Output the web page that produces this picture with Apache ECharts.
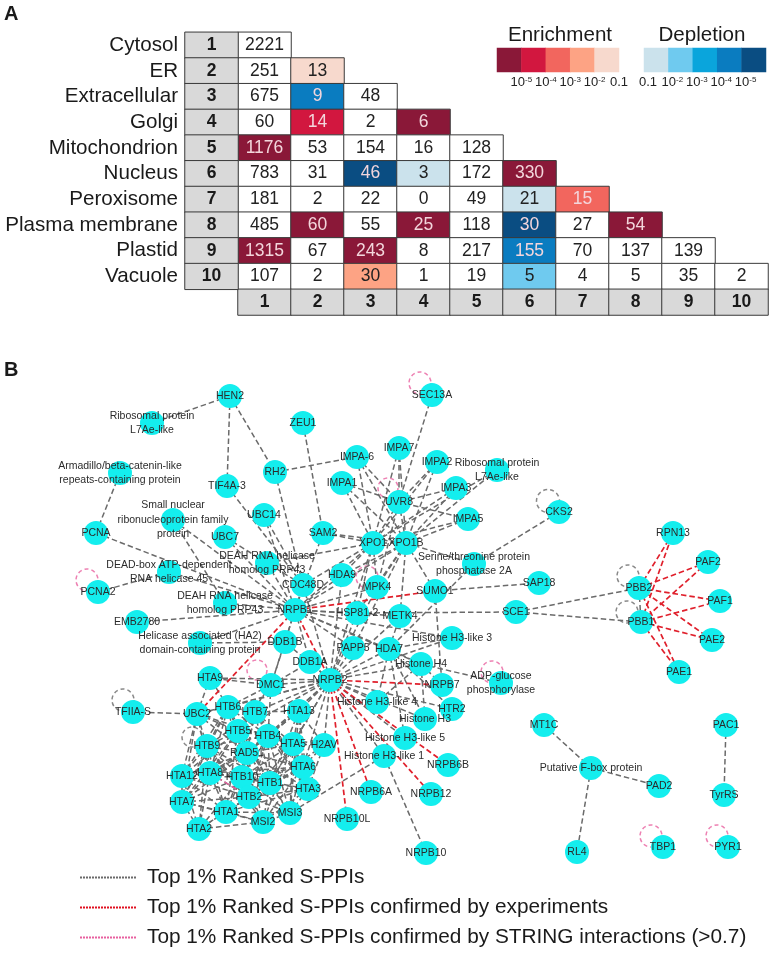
<!DOCTYPE html>
<html>
<head>
<meta charset="utf-8">
<style>html,body{margin:0;padding:0;background:#fff}#c{width:771px;height:953px}</style>
<script src="https://cdn.jsdelivr.net/npm/echarts@6/dist/echarts.min.js"></script>
</head>
<body>
<div id="c"></div>
<script>
// ---------- Panel A data ----------
const compartments = ["Cytosol","ER","Extracellular","Golgi","Mitochondrion","Nucleus","Peroxisome","Plasma membrane","Plastid","Vacuole"];
const overlapCounts = [
  [2221],
  [251,13],
  [675,9,48],
  [60,14,2,6],
  [1176,53,154,16,128],
  [783,31,46,3,172,330],
  [181,2,22,0,49,21,15],
  [485,60,55,25,118,30,27,54],
  [1315,67,243,8,217,155,70,137,139],
  [107,2,30,1,19,5,4,5,35,2]
];
// + = enrichment class, - = depletion class, 0 = not significant
const significance = [
  [0],
  [0,1],
  [0,-4,0],
  [0,4,0,5],
  [5,0,0,0,0],
  [0,0,-5,-1,0,5],
  [0,0,0,0,0,-1,3],
  [0,5,0,5,0,-5,0,5],
  [5,0,5,0,0,-4,0,0,0],
  [0,0,2,0,0,-2,0,0,0,0]
];
const enrichColors = ["#f7d9cd","#fda384","#f2665e","#d2173f","#8a1838"];   // class 1..5
const depleteColors = ["#cbe2ec","#6fcaef","#0aa5dc","#0a7cc0","#0a4d82"];  // class 1..5
const enrichTicks = ["", "10{s|-5}", "10{s|-4}", "10{s|-3}", "10{s|-2}", "0.1"];
const depleteTicks = ["0.1", "10{s|-2}", "10{s|-3}", "10{s|-4}", "10{s|-5}", ""];

// ---------- Panel B data (positions) ----------
const nodes = [
  ["HEN2",230,396],["Rib1",152,423,"Ribosomal protein\nL7Ae-like"],["ZEU1",303,423],["RH2",275,472],
  ["TIF4A-3",227,486],["Armadillo",120,473,"Armadillo/beta-catenin-like\nrepeats-containing protein"],
  ["UBC14",264,515],["SmallNuc",173,520,"Small nuclear\nribonucleoprotein family\nprotein"],["UBC7",225,537],
  ["PCNA",96,533],["SAM2",323,533],["DEAH1",267,563,"DEAH RNA helicase\nhomolog PRP43"],["CDC48D",303,585],
  ["HDA9",342,575],["IMPA1",342,483],["IMPA-6",357,457],["DEADbox",169,572,"DEAD-box ATP-dependent\nRNA helicase 45"],
  ["PCNA2",98,592],["DEAH2",225,603,"DEAH RNA helicase\nhomolog PRP43"],["SEC13A",432,395],["IMPA7",399,448],
  ["IMPA2",437,462],["Rib2",497,470,"Ribosomal protein\nL7Ae-like"],["IMPA3",456,488],["UVR8",399,502],
  ["IMPA5",468,519],["CKS2",559,512],["XPO1",373,543],["XPO1B",406,543],
  ["SerThr",474,564,"Serine/threonine protein\nphosphatase 2A"],["SAP18",539,583],["MPK4",377,587],["SUMO1",435,591],
  ["EMB2780",137,622],["HA2",200,643,"Helicase associated (HA2)\ndomain-containing protein"],["NRPB1",295,610],
  ["DDB1B",285,642],["DDB1A",310,662],["NRPB2",330,680],["HTA9",210,678],["DMC1",271,685],["TFIIA-S",133,712],
  ["UBC2",197,714],["HTB6",228,707],["HTB7",255,712],["HTA13",299,711],["HTB5",238,731],["HTB4",268,736],
  ["HTA5",293,744],["H2AV",324,745],["HTB9",207,746],["RAD51",247,753],["HTA6",303,767],["HTA8",210,773],
  ["HTA12",182,776],["HTB10",242,777],["HTB1",270,783],["HTA3",308,789],["HTA7",182,802],["HTB2",249,797],
  ["HTA1",226,812],["MSI3",290,813],["MSI2",263,822],["HTA2",199,829],["NRPB10L",347,819],
  ["HSP81-2",357,613],["METK4",400,616],["SCE1",516,612],["H3L3",452,638,"Histone H3-like 3"],["PAPP5",353,648],
  ["HDA7",389,649],["H4",421,664,"Histone H4"],["ADPG",501,683,"ADP-glucose\nphosphorylase"],["NRPB7",442,685],
  ["HTR2",452,709],["H3L4",377,702,"Histone H3-like 4"],["H3",425,719,"Histone H3"],["H3L5",405,738,"Histone H3-like 5"],
  ["H3L1",384,756,"Histone H3-like 1"],["NRPB6B",448,765],["NRPB6A",371,792],["NRPB12",431,794],["NRPB10",426,853],
  ["RPN13",673,533],["PAF2",708,562],["PBB2",639,588],["PAF1",720,601],["PBB1",641,622],["PAE2",712,640],["PAE1",679,672],
  ["MT1C",544,725],["FBOX",591,768,"Putative F-box protein"],["PAD2",659,786],["PAC1",726,725],["TyrRS",724,795],
  ["RL4",577,852],["TBP1",663,847],["PYR1",728,847]
];
const grayLinks = [
  ["HEN2",["Rib1","TIF4A-3","RH2"]],
  ["RH2",["IMPA-6","CDC48D"]],
  ["ZEU1",["SAM2"]],["Armadillo",["PCNA"]],["PCNA",["NRPB1"]],["PCNA2",["DEADbox"]],["DEADbox",["NRPB1"]],
  ["TIF4A-3",["CDC48D"]],["UBC14",["NRPB1","CDC48D"]],["UBC7",["NRPB1","CDC48D"]],["SmallNuc",["NRPB1","DEAH2"]],
  ["SAM2",["XPO1","XPO1B","NRPB1"]],["DEAH1",["XPO1","NRPB1"]],["EMB2780",["NRPB1"]],["DEAH2",["NRPB1"]],["HA2",["NRPB1","DDB1B"]],
  ["IMPA-6",["UVR8","XPO1","XPO1B"]],["IMPA7",["UVR8","XPO1","XPO1B"]],["IMPA2",["UVR8","XPO1","XPO1B"]],
  ["IMPA3",["UVR8","XPO1","XPO1B"]],["IMPA5",["UVR8","XPO1","XPO1B"]],["IMPA1",["UVR8","XPO1","XPO1B"]],["Rib2",["XPO1","XPO1B"]],
  ["SEC13A",["UVR8"]],["UVR8",["XPO1","XPO1B","MPK4"]],
  ["XPO1",["XPO1B","HDA9","MPK4","NRPB1","HSP81-2","CDC48D","NRPB2"]],
  ["XPO1B",["MPK4","SUMO1","HSP81-2","METK4","SerThr","HDA9","NRPB1","PAPP5"]],
  ["CKS2",["SerThr"]],["SerThr",["HDA7"]],["SUMO1",["SAP18","NRPB7"]],
  ["SCE1",["PBB2","PBB1","HSP81-2"]],["PBB2",["PBB1"]],
  ["NRPB1",["DDB1A","DDB1B","PAPP5","HDA7","H4","CDC48D","HDA9","HSP81-2","METK4","H3L3","MPK4","DMC1"]],
  ["NRPB2",["HTA9","DMC1","UBC2","HTB6","HTB7","HTA13","H2AV","HTA5","HTB4","HTB5","RAD51","HTB1","HTA6","DDB1A","DDB1B","PAPP5","HDA7","H4","H3L3","H3L4","H3","HTR2","H3L5","H3L1","HSP81-2","CDC48D","HDA9","METK4","MPK4"]],
  ["H4",["ADPG","NRPB7","H3L4","H3","HDA7"]],["HDA7",["METK4","H3L5","H3","H3L4","HTR2"]],["H3L3",["HDA7"]],
  ["H3L1",["NRPB10","MSI3"]],["UBC2",["TFIIA-S","HTA9","HTA8","HTA12","HTA7","RAD51","HTB5","HTB4"]],
  ["DMC1",["HTA9","HTB6","HTB5","DDB1B","DDB1A","HTB4"]],
  ["HTB6",["HTA9","UBC2","HTB7","HTB5","HTB4","HTB9","RAD51","HTA8","HTB10","HTB1","HTA12","HTA7"]],
  ["HTB7",["HTA13","HTB5","HTB4","HTA5","RAD51","HTA6","HTB1","HTB10","HTA3","HTB9"]],
  ["HTA13",["HTB4","HTA5","H2AV","HTA6","RAD51","HTB1","HTA3","MSI3"]],
  ["HTB5",["HTB4","HTB9","RAD51","HTA8","HTB10","HTB1","HTA12","HTB2","HTA1","HTA7"]],
  ["HTB4",["HTA5","RAD51","HTA6","HTB1","HTB10","HTA3","HTB2","MSI3","HTA8","HTB9"]],
  ["HTA5",["H2AV","HTA6","RAD51","HTB1","HTA3","HTB10","MSI3","HTB2","MSI2"]],
  ["HTB9",["UBC2","RAD51","HTA8","HTA12","HTB10","HTA7","HTB2","HTA1","HTA2","HTB1","MSI2"]],
  ["RAD51",["HTA8","HTB10","HTB1","HTA6","HTB2","HTA12","HTA3","HTA1","HTA7","MSI3","MSI2"]],
  ["HTA6",["HTB1","HTA3","HTB10","HTB2","MSI3","MSI2","HTA1","HTA8"]],
  ["HTA8",["HTA12","HTB10","HTA7","HTB2","HTA1","HTB1","HTA2"]],
  ["HTA12",["HTB10","HTA7","HTA1","HTB2","HTA2"]],
  ["HTB10",["HTB1","HTB2","HTA1","HTA3","MSI2","MSI3","HTA7","HTA2"]],
  ["HTB1",["HTA3","HTB2","MSI3","MSI2","HTA1"]],
  ["HTA3",["MSI3","HTB2","MSI2","HTA1"]],["HTA7",["HTA1","HTB2","HTA2","MSI2"]],
  ["HTB2",["HTA1","MSI2","MSI3","HTA2"]],["HTA1",["MSI2","HTA2","MSI3"]],["MSI3",["MSI2"]],["HTA2",["MSI2"]],
  ["H2AV",["HTA6","HTA3","HTB1","HTB4"]],
  ["MT1C",["FBOX"]],["FBOX",["PAD2","RL4"]],["PAC1",["TyrRS"]]
];
const redLinks = [
  ["NRPB1",["SUMO1","NRPB2","UBC2"]],
  ["NRPB2",["NRPB7","NRPB6B","NRPB12","NRPB6A","NRPB10L"]],
  ["PBB2",["RPN13","PAF2","PAF1","PAE2","PAE1"]],
  ["PBB1",["RPN13","PAF2","PAF1","PAE2","PAE1"]]
];
const pinkLinks = [["HTA8",["HTB2"]]];
// self-interaction loops: [centre x, centre y, diameter]
const grayLoops = [[548,501,23],[628,576,22],[627,612,22],[123,700,22],[192,737,20]];
const pinkLoops = [[420,383,22],[388,488,20],[367,577,22],[87,580,22],[257,670,20],[492,672,22],[651,836,22],[717,836,22]];
const legendNames = ["Top 1% Ranked S-PPIs","Top 1% Ranked S-PPIs confirmed by experiments","Top 1% Ranked S-PPIs confirmed by STRING interactions (>0.7)"];

// ---------- Build ----------
const GRAY="#6a6a6a", RED="#e0202c", PINK="#e8609f", CYAN="#14eeee", DASH=[5.5,3];
const FONT="Liberation Sans";
const classColor = c => c>0 ? enrichColors[c-1] : c<0 ? depleteColors[-c-1] : "#ffffff";
const classText = c => Math.abs(c)>=3 ? "#f3d6dc" : "#222222";

const cells=[];
overlapCounts.forEach((row,r)=>row.forEach((v,c)=>{
  const s=significance[r][c];
  cells.push({value:[c+1,r,v],itemStyle:{color:classColor(s)},label:{color:classText(s)}});
}));
const headers=[];
compartments.forEach((_,i)=>{headers.push({value:[0,i,i+1]});headers.push({value:[i+1,10,i+1]});});

const expand=(list,style)=>{const o=[];list.forEach(([a,bs])=>bs.forEach(b=>o.push({source:a,target:b,lineStyle:style})));return o;};
const links=[
  ...expand(grayLinks,{color:GRAY,width:1.5,type:DASH,opacity:1}),
  ...expand(pinkLinks,{color:PINK,width:1.3,type:DASH,opacity:1}),
  ...expand(redLinks,{color:RED,width:1.7,type:DASH,opacity:1})
];
const graphData=nodes.map(n=>({name:n[0],value:[n[1],n[2]],text:n[3]||n[0]}));

const idx=[...Array(11).keys()].map(String);
const five=["1","2","3","4","5"];
const hiddenCat=(grid)=>({type:"category",gridIndex:grid,show:false,data:five});
const tickAxis=(grid,ticks,pad)=>({type:"value",gridIndex:grid,min:0,max:5,interval:1,position:"bottom",
  axisLine:{show:false},axisTick:{show:false},splitLine:{show:false},
  axisLabel:{show:true,margin:4,fontSize:13,color:"#222",fontFamily:FONT,hideOverlap:false,showMinLabel:true,showMaxLabel:true,
    padding:pad,formatter:v=>ticks[v],rich:{s:{fontSize:8,padding:[0,0,5,0],color:"#222"}}}});
const swatch=(x,y,colors)=>({type:"heatmap",xAxisIndex:x,yAxisIndex:y,silent:true,
  data:colors.map((c,i)=>({value:[i,0,i],itemStyle:{color:c}}))});
const T=(text,left,top,size,weight,align)=>({text,left,top,textAlign:align||"left",padding:0,
  textStyle:{fontFamily:FONT,fontSize:size,fontWeight:weight||"normal",color:"#1a1a1a"}});
const loopSeries=(data,color)=>({type:"scatter",xAxisIndex:1,yAxisIndex:1,silent:true,z:1,symbol:"circle",
  data,symbolSize:d=>d[2],
  itemStyle:{color:"transparent",borderColor:color,borderWidth:1.5,borderType:[4,3]}});
const legendLine=(name,color,w)=>({type:"line",name,xAxisIndex:1,yAxisIndex:1,data:[],symbol:"none",
  itemStyle:{color},lineStyle:{color,width:w,type:[2,1]}});

const option={
  animation:false,
  backgroundColor:"#fff",
  title:[T("A",4,4,20,"bold"),T("B",4,360,20,"bold"),T("Enrichment",560,25,20.6,"normal","center"),T("Depletion",702,25,20.6,"normal","center")],
  legend:{orient:"vertical",left:79,top:867,itemWidth:56,itemHeight:20,itemGap:9,padding:0,
    itemStyle:{color:"transparent",borderWidth:0,opacity:0},
    textStyle:{fontFamily:FONT,fontSize:20.8,color:"#1a1a1a",padding:[0,0,0,6]},
    selectedMode:false,data:legendNames},
  grid:[
    {left:185,top:32.3,width:583,height:282.7},
    {left:0,top:0,width:771,height:953},
    {left:497,top:48,width:122,height:24},
    {left:644,top:48,width:122,height:24}
  ],
  xAxis:[
    {type:"category",gridIndex:0,show:false,data:idx},
    {type:"value",gridIndex:1,show:false,min:0,max:771},
    hiddenCat(2),tickAxis(2,enrichTicks,0),
    hiddenCat(3),tickAxis(3,depleteTicks,[0,0,0,8])
  ],
  yAxis:[
    {type:"category",gridIndex:0,inverse:true,data:[...compartments,""],
      axisLine:{show:false},axisTick:{show:false},splitLine:{show:false},
      axisLabel:{margin:7,fontSize:20.6,color:"#1a1a1a",fontFamily:FONT,interval:0,padding:[0,0,4,0]}},
    {type:"value",gridIndex:1,show:false,inverse:true,min:0,max:953},
    {type:"category",gridIndex:2,show:false,data:["a"]},
    {type:"category",gridIndex:3,show:false,data:["a"]}
  ],
  series:[
    {type:"heatmap",xAxisIndex:0,yAxisIndex:0,silent:true,data:cells,
      itemStyle:{borderColor:"#3a3a3a",borderWidth:1},
      label:{show:true,fontFamily:FONT,fontSize:17.5,formatter:p=>p.value[2]}},
    {type:"heatmap",xAxisIndex:0,yAxisIndex:0,silent:true,data:headers,
      itemStyle:{color:"#d9d9d9",borderColor:"#3a3a3a",borderWidth:1},
      label:{show:true,fontFamily:FONT,fontSize:17.5,fontWeight:"bold",color:"#1a1a1a",formatter:p=>p.value[2]}},
    swatch(2,2,enrichColors.slice().reverse()),
    swatch(4,3,depleteColors),
    loopSeries(grayLoops,GRAY),
    loopSeries(pinkLoops,PINK),
    {type:"graph",coordinateSystem:"cartesian2d",xAxisIndex:1,yAxisIndex:1,z:2,silent:true,
      symbol:"circle",symbolSize:24,data:graphData,links,
      itemStyle:{color:CYAN,opacity:1},
      label:{show:true,position:"inside",fontFamily:FONT,fontSize:10.5,color:"#2b2b2b",lineHeight:14.5,align:"center",formatter:p=>p.data.text}},
    legendLine(legendNames[0],GRAY,1.4),
    legendLine(legendNames[1],"#e01020",1.6),
    legendLine(legendNames[2],PINK,1.4)
  ]
};
echarts.init(document.getElementById("c"),null,{renderer:"canvas"}).setOption(option);
</script>
</body>
</html>
